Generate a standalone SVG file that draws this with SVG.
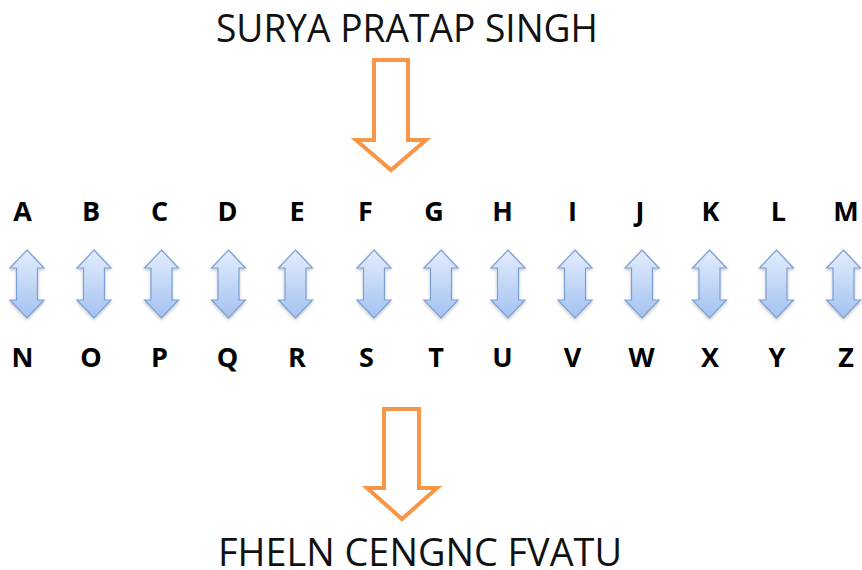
<svg xmlns="http://www.w3.org/2000/svg" width="862" height="570" viewBox="0 0 862 570">
  <style>
    .title { font-family: "Open Sans", "Liberation Sans", sans-serif; font-size: 39px; fill: #111; }
    .ltr { font-family: "Open Sans", "Liberation Sans", sans-serif; font-weight: 700; font-size: 27px; fill: #000; text-anchor: middle; }
    .flow { fill: #fff; stroke: #F79646; stroke-width: 4; stroke-linejoin: miter; }
    .swap { fill: url(#blueGrad); stroke: #7C9FD3; stroke-width: 1.2; filter: url(#soft); }
  </style>
  <defs>
    <linearGradient id="blueGrad" x1="0" y1="0" x2="0" y2="1">
      <stop offset="0" stop-color="#E3EDFC"/>
      <stop offset="0.6" stop-color="#BCD3F6"/>
      <stop offset="1" stop-color="#A4C2F1"/>
    </linearGradient>
    <filter id="soft" x="-30%" y="-20%" width="160%" height="150%">
      <feDropShadow dx="0" dy="1.5" stdDeviation="1.5" flood-color="#000" flood-opacity="0.25"/>
    </filter>
    <!-- double-headed vertical arrow centred on x = 0 -->
    <path id="dbl" d="M0,250 L17,268 L10.5,268 L10.5,300 L17,300 L0,318 L-17,300 L-10.5,300 L-10.5,268 L-17,268 Z"/>
  </defs>

  <rect width="862" height="570" fill="#fff"/>

  <g id="plaintext">
    <text class="title" x="216" y="42" textLength="382" lengthAdjust="spacingAndGlyphs">SURYA PRATAP SINGH</text>
  </g>

  <g id="connectors">
    <path class="flow" d="M374,60 L408,60 L408,140 L426,140 L391,170 L356,140 L374,140 Z"/>
    <path class="flow" d="M384,409 L419,409 L419,488 L437,488 L402,519 L367,488 L384,488 Z"/>
    <g class="swap">
      <use href="#dbl" x="27"/>
      <use href="#dbl" x="94"/>
      <use href="#dbl" x="161.5"/>
      <use href="#dbl" x="228.5"/>
      <use href="#dbl" x="295.5"/>
      <use href="#dbl" x="374"/>
      <use href="#dbl" x="441"/>
      <use href="#dbl" x="508"/>
      <use href="#dbl" x="575"/>
      <use href="#dbl" x="642"/>
      <use href="#dbl" x="709.5"/>
      <use href="#dbl" x="776.5"/>
      <use href="#dbl" x="843.5"/>
    </g>
  </g>

  <g id="row-top">
    <text class="ltr" x="22.5" y="221">A</text>
    <text class="ltr" x="91" y="221">B</text>
    <text class="ltr" x="159.5" y="221">C</text>
    <text class="ltr" x="227.5" y="221">D</text>
    <text class="ltr" x="297" y="221">E</text>
    <text class="ltr" x="365.5" y="221">F</text>
    <text class="ltr" x="434" y="221">G</text>
    <text class="ltr" x="502.5" y="221">H</text>
    <text class="ltr" x="572.5" y="221">I</text>
    <text class="ltr" x="640" y="221">J</text>
    <text class="ltr" x="710.5" y="221">K</text>
    <text class="ltr" x="778.5" y="221">L</text>
    <text class="ltr" x="846" y="221">M</text>
  </g>

  <g id="row-bottom">
    <text class="ltr" x="22.5" y="366.5">N</text>
    <text class="ltr" x="91" y="366.5">O</text>
    <text class="ltr" x="159.5" y="366.5">P</text>
    <text class="ltr" x="227.5" y="366.5">Q</text>
    <text class="ltr" x="297" y="366.5">R</text>
    <text class="ltr" x="366.5" y="366.5">S</text>
    <text class="ltr" x="436" y="366.5">T</text>
    <text class="ltr" x="502.5" y="366.5">U</text>
    <text class="ltr" x="572.5" y="366.5">V</text>
    <text class="ltr" x="641.5" y="366.5">W</text>
    <text class="ltr" x="710" y="366.5">X</text>
    <text class="ltr" x="777" y="366.5">Y</text>
    <text class="ltr" x="846" y="366.5">Z</text>
  </g>

  <g id="ciphertext">
    <text class="title" x="218" y="566" textLength="404" lengthAdjust="spacingAndGlyphs">FHELN CENGNC FVATU</text>
  </g>
</svg>
